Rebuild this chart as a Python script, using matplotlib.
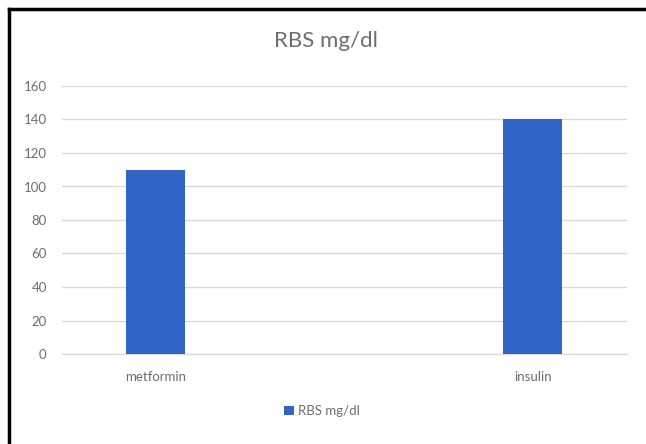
import matplotlib.pyplot as plt
from matplotlib.lines import Line2D
import numpy as np

# Chart data
categories = ["metformin", "insulin"]
rbs_values = [110, 140]
series_name = "RBS mg/dl"
y_ticks = [0, 20, 40, 60, 80, 100, 120, 140, 160]

plt.rcParams["font.family"] = ["Lato", "DejaVu Sans"]

W, H = 646, 444
fig = plt.figure(figsize=(W / 100, H / 100), dpi=100)
ax = fig.add_axes([62 / W, 90 / H, (627 - 62) / W, (354 - 86) / H])

x = np.arange(len(categories))
ax.bar(x, rbs_values, width=0.157, color="#3264C8", label=series_name, zorder=3)

ax.set_xlim(-0.248, 1.25)
ax.set_ylim(0, 160)
ax.set_yticks(y_ticks)
ax.set_xticks(x)
ax.set_xticklabels(categories)
ax.grid(axis="y", color="#d9d9d9", linewidth=1.0, zorder=0)
for side in ["top", "right", "left"]:
    ax.spines[side].set_visible(False)
ax.spines["bottom"].set_color("#d9d9d9")
ax.tick_params(axis="both", length=0, colors="#6e6e6e", labelsize=9.5)
ax.tick_params(axis="y", pad=11)
ax.tick_params(axis="x", pad=12)

fig.text(326 / W, 1 - 41 / H, "RBS mg/dl", ha="center", va="center",
         fontsize=16, color="#6e6e6e")

ax.legend(loc="center", bbox_to_anchor=(322 / W, 1 - 411 / H),
          bbox_transform=fig.transFigure, frameon=False, fontsize=9.5,
          labelcolor="#6e6e6e", handlelength=0.7, handleheight=0.7,
          handletextpad=0.3)

# Black frame around the picture (left and top edges)
fig.add_artist(Line2D([9 / W, 9 / W], [0, 1 - 9 / H], color="black", linewidth=2.5))
fig.add_artist(Line2D([9 / W, 1], [1 - 9 / H, 1 - 9 / H], color="black", linewidth=2.5))

fig.savefig("out.png", dpi=100)
